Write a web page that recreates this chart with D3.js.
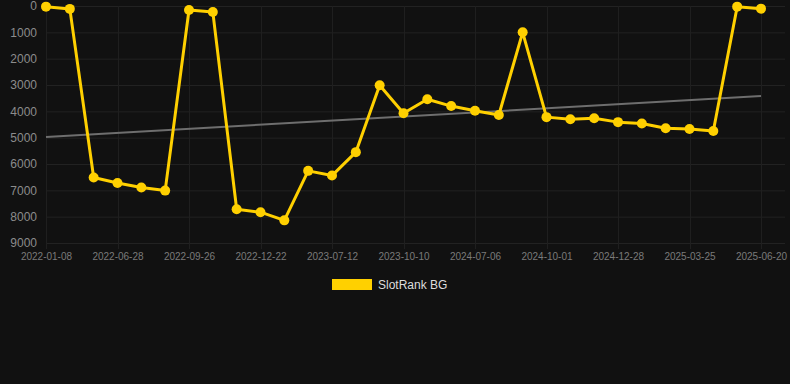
<!DOCTYPE html>
<html>
<head>
<meta charset="utf-8">
<script src="https://cdn.jsdelivr.net/npm/d3@7"></script>
<style>
  html, body { margin: 0; padding: 0; background: #111111; }
  svg { display: block; font-family: "Liberation Sans", Arial, sans-serif; }
</style>
</head>
<body>
<div id="chart"></div>
<script>
// rank per snapshot, lower is better (axis is reversed)
var rankValues = [25, 110, 6510, 6720, 6890, 7010, 150, 230, 7720, 7830, 8140,
                  6260, 6440, 5550, 3010, 4070, 3540, 3800, 3980, 4140, 1000,
                  4220, 4300, 4260, 4410, 4460, 4640, 4670, 4750, 25, 100];

// tick labels shown under every third point
var tickIndex  = [0, 3, 6, 9, 12, 15, 18, 21, 24, 27, 30];
var tickLabels = ['2022-01-08', '2022-06-28', '2022-09-26', '2022-12-22', '2023-07-12',
                  '2023-10-10', '2024-07-06', '2024-10-01', '2024-12-28', '2025-03-25', '2025-06-20'];

var yTicks = [0, 1000, 2000, 3000, 4000, 5000, 6000, 7000, 8000, 9000];

// trend line end values
var trendValues = [4970, 3420];

var seriesName = 'SlotRank BG';

var width  = 790,
    height = 384;

var plotLeft = 46, plotRight = 785, plotTop = 6, plotBottom = 243;

var xScale = d3.scalePoint()
    .domain(d3.range(rankValues.length))
    .range([plotLeft, 761]);

var yScale = d3.scaleLinear()
    .domain([0, 9000])
    .range([plotTop, plotBottom]);

var svg = d3.select('#chart').append('svg')
    .attr('width', width)
    .attr('height', height)
    .style('background', '#111111');

// grid
svg.append('g').selectAll('line').data(yTicks)
    .enter().append('line')
        .attr('x1', plotLeft)
        .attr('x2', plotRight)
        .attr('y1', function(d) { return yScale(d) + 0.5; })
        .attr('y2', function(d) { return yScale(d) + 0.5; })
        .attr('stroke', '#222222')
        .attr('stroke-width', 1);

svg.append('g').selectAll('line').data(tickIndex)
    .enter().append('line')
        .attr('x1', function(d) { return Math.round(xScale(d)) + 0.5; })
        .attr('x2', function(d) { return Math.round(xScale(d)) + 0.5; })
        .attr('y1', plotTop)
        .attr('y2', plotBottom + 6)
        .attr('stroke', '#1f1f1f')
        .attr('stroke-width', 1);

// y axis labels
var yAxis = d3.axisLeft(yScale)
    .tickValues(yTicks)
    .tickSize(0)
    .tickPadding(9)
    .tickFormat(function(d) { return d; });

svg.append('g')
    .attr('transform', 'translate(' + plotLeft + ',0)')
    .call(yAxis)
    .call(function(g) {
        g.select('.domain').remove();
        g.selectAll('text')
            .attr('fill', '#8c8c8c')
            .style('font-size', '12px');
    });

// x axis labels
var xAxis = d3.axisBottom(xScale)
    .tickValues(tickIndex)
    .tickSize(0)
    .tickPadding(10)
    .tickFormat(function(d) { return tickLabels[tickIndex.indexOf(d)]; });

svg.append('g')
    .attr('transform', 'translate(0,' + plotBottom + ')')
    .call(xAxis)
    .call(function(g) {
        g.select('.domain').remove();
        g.selectAll('text')
            .attr('fill', '#7a7a7a')
            .style('font-size', '10px');
    });

// trend line
svg.append('line')
    .attr('x1', xScale(0))
    .attr('x2', xScale(rankValues.length - 1))
    .attr('y1', yScale(trendValues[0]))
    .attr('y2', yScale(trendValues[1]))
    .attr('stroke', '#6e6e6e')
    .attr('stroke-width', 2);

// series
var line = d3.line()
    .x(function(d, i) { return xScale(i); })
    .y(function(d) { return yScale(d); });

svg.append('path')
    .datum(rankValues)
    .attr('d', line)
    .attr('fill', 'none')
    .attr('stroke', '#FFD000')
    .attr('stroke-width', 3)
    .attr('stroke-linejoin', 'round');

svg.append('g').selectAll('circle').data(rankValues)
    .enter().append('circle')
        .attr('cx', function(d, i) { return xScale(i); })
        .attr('cy', function(d) { return yScale(d); })
        .attr('r', 5)
        .attr('fill', '#FFD000');

// legend
var legend = svg.append('g').attr('transform', 'translate(332,279)');
legend.append('rect')
    .attr('width', 40)
    .attr('height', 11)
    .attr('fill', '#FFD000');
legend.append('text')
    .attr('x', 46)
    .attr('y', 10)
    .attr('fill', '#dddddd')
    .style('font-size', '12px')
    .text(seriesName);
</script>
</body>
</html>
